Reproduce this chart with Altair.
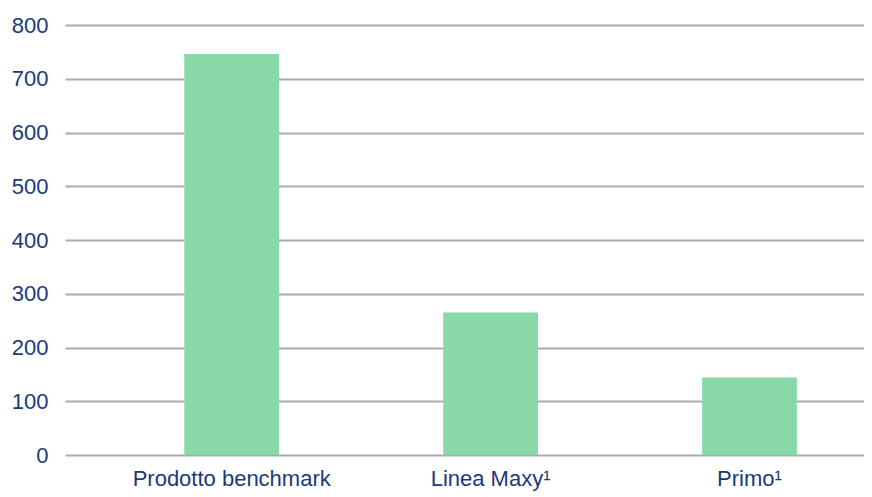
import altair as alt
import pandas as pd

categories = ["Prodotto benchmark", "Linea Maxy¹", "Primo¹"]
values = [746, 265, 144]
y_ticks = [0, 100, 200, 300, 400, 500, 600, 700, 800]

BAR_COLOR = "#88D8A8"
TEXT_COLOR = "#1A3A7A"
GRID_COLOR = "#ABABAB"
FONT = "Liberation Sans, Arial, sans-serif"

df = pd.DataFrame({"categoria": categories, "valore": values})

chart = (
    alt.Chart(df)
    .mark_bar(color=BAR_COLOR)
    .encode(
        x=alt.X(
            "categoria:N",
            sort=categories,
            title=None,
            scale=alt.Scale(paddingInner=0.634, paddingOuter=0.36, align=0.64),
            axis=alt.Axis(
                labelAngle=0,
                ticks=False,
                tickSize=0,
                domain=False,
                labelFont=FONT,
                labelFontSize=22,
                labelColor=TEXT_COLOR,
                labelPadding=30,
                labelBaseline="alphabetic",
                labelLimit=0,
            ),
        ),
        y=alt.Y(
            "valore:Q",
            title=None,
            scale=alt.Scale(domain=[0, 800], nice=False),
            axis=alt.Axis(
                values=y_ticks,
                grid=True,
                gridColor=GRID_COLOR,
                gridWidth=2,
                ticks=False,
                tickSize=0,
                domain=False,
                labelFont=FONT,
                labelFontSize=22,
                labelColor=TEXT_COLOR,
                labelPadding=17,
            ),
        ),
    )
    .properties(
        width=799,
        height=430,
        autosize="none",
        padding={"left": 57, "top": 17, "right": 0, "bottom": 36},
    )
    .configure_view(stroke=None)
)

chart.save("out.html", embed_options={"renderer": "svg", "actions": False})
